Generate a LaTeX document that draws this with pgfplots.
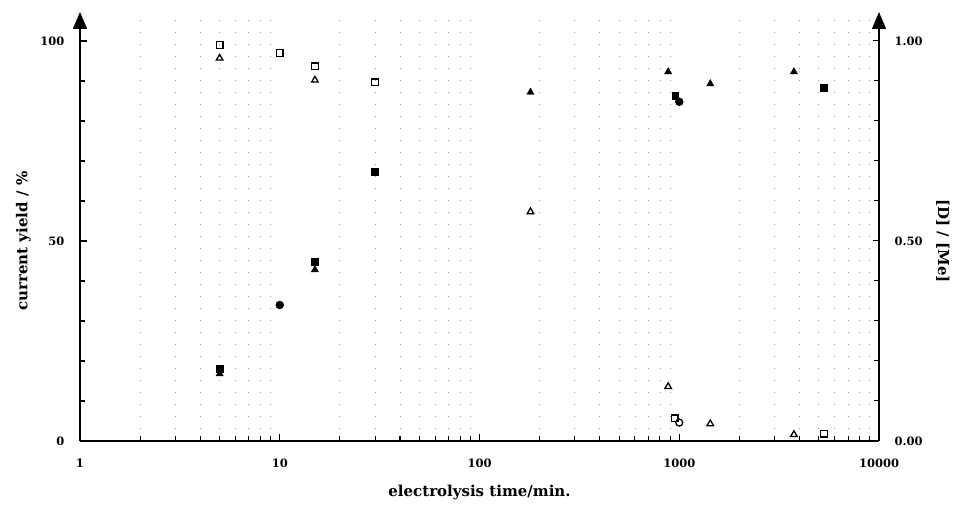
\documentclass[border=0pt]{standalone}
\usepackage{fontspec}
\setmainfont{DejaVu Serif}
\usepackage{pgfplots}
\pgfplotsset{compat=1.18}
\usetikzlibrary{arrows.meta}

\begin{document}
\begin{tikzpicture}
\path[use as bounding box] (0pt,0pt) rectangle (958pt,508pt);
\begin{axis}[
  scale only axis,
  width=799pt, height=429pt,
  at={(80pt,67pt)}, anchor=south west,
  xmode=log, xmin=1, xmax=10000,
  ymin=0, ymax=107.25,
  /pgf/number format/assume math mode=true,
  tick label style={font=\fontsize{11.5}{13}\selectfont\bfseries},
  axis x line*=bottom, axis y line*=left,
  tick align=inside,
  major tick length=7pt, minor tick length=5pt,
  tick style={black, line width=1.1pt},
  axis line style={line width=1.5pt},
  x axis line style={-},
  y axis line style={-{Triangle[length=17pt,width=14pt]}},
  xtick={1,10,100,1000,10000},
  xticklabels={1,10,100,1000,10000},
  xmajorgrids=true,
  major x grid style={black, line width=1.3pt, dash pattern=on 7pt off 2000pt},
  minor xtick={2,3,4,5,6,7,8,9,20,30,40,50,60,70,80,90,200,300,400,500,600,700,800,900,2000,3000,4000,5000,6000,7000,8000,9000},
  xminorgrids=true,
  minor x grid style={black!40, line width=0.8pt, dash pattern=on 0.8pt off 11.2pt},
  ytick={0,50,100},
  minor ytick={10,20,30,40,60,70,80,90},
  xticklabel shift=14pt,
  yticklabel shift=12pt,
  xlabel={electrolysis time/min.},
  ylabel={current yield / \%},
  every axis x label/.style={at={(axis description cs:0.5,-0.121)}, anchor=center, font=\fontsize{15}{17}\selectfont\bfseries},
  every axis y label/.style={at={(axis description cs:-0.071,0.466)}, anchor=center, rotate=90, font=\fontsize{15}{17}\selectfont\bfseries},
]
% open squares
\addplot[only marks, mark=square, mark size=3.3pt, mark options={line width=1.3pt, fill=white}]
  coordinates {(5,99) (10,97) (15,93.7) (30,89.7) (950,5.7) (5300,1.8)};
% open circle
\addplot[only marks, mark=o, mark size=3.5pt, mark options={line width=1.3pt, fill=white}]
  coordinates {(1000,4.6)};
% open triangles
\addplot[only marks, mark=triangle, mark size=3.8pt, mark options={line width=1.3pt, fill=white}]
  coordinates {(5,95.7) (15,90.2) (180,57.3) (880,13.6) (1430,4.3) (3750,1.6)};
% filled triangles
\addplot[only marks, mark=triangle*, mark size=4.2pt, black]
  coordinates {(5,16.8) (15,42.8) (180,87.2) (880,92.3) (1430,89.3) (3750,92.3)};
% filled squares
\addplot[only marks, mark=square*, mark size=3.4pt, black]
  coordinates {(5,18) (15,44.8) (30,67.3) (955,86.3) (5300,88.4)};
% filled circles
\addplot[only marks, mark=*, mark size=4pt, black]
  coordinates {(10,34) (1000,84.8)};
\end{axis}

\begin{axis}[
  scale only axis,
  width=799pt, height=429pt,
  at={(80pt,67pt)}, anchor=south west,
  xmin=1, xmax=10000, xmode=log,
  ymin=0, ymax=1.0725,
  /pgf/number format/assume math mode=true,
  tick label style={font=\fontsize{11.5}{13}\selectfont\bfseries},
  axis x line=none, axis y line*=right,
  tick align=inside,
  major tick length=6pt, minor tick length=5pt,
  tick style={black, line width=1pt},
  axis line style={line width=1.5pt},
  y axis line style={-{Triangle[length=17pt,width=14pt]}},
  ytick={0,0.5,1},
  yticklabels={0.00,0.50,1.00},
  minor ytick={0.1,0.2,0.3,0.4,0.6,0.7,0.8,0.9},
  yticklabel shift=12pt,
  ylabel={[D] / [Me]},
  every axis y label/.style={at={(axis description cs:1.080,0.466)}, anchor=center, rotate=-90, font=\fontsize{15}{17}\selectfont\bfseries},
]
\end{axis}
\end{tikzpicture}
\end{document}
